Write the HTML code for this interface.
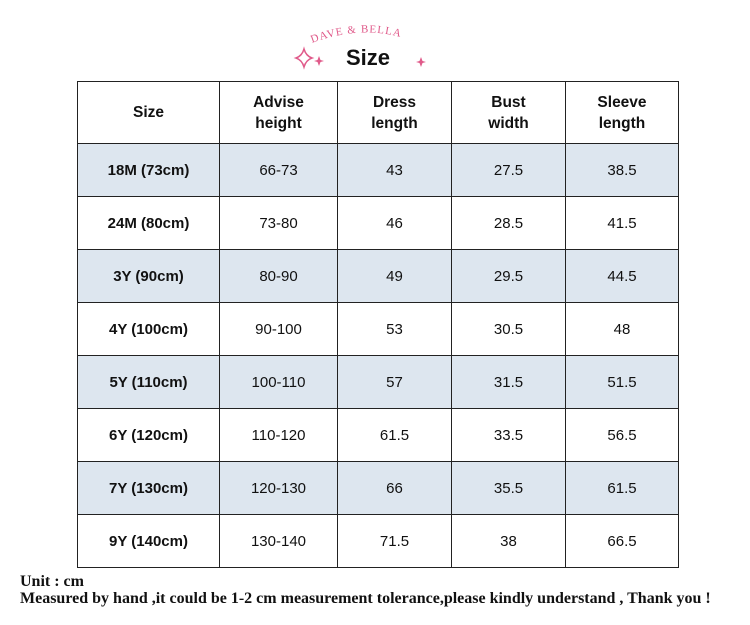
<!DOCTYPE html>
<html><head><meta charset="utf-8"><style>
body{margin:0;width:750px;height:625px;background:#fff;position:relative;overflow:hidden;font-family:"Liberation Sans",sans-serif}
table{position:absolute;left:77px;top:81px;border-collapse:collapse;table-layout:fixed}
td{border:1.5px solid #222;text-align:center;font-size:15px;color:#111;padding:0}
tr.h td{height:61px;font-weight:bold;font-size:15.5px;line-height:21px}
tr td{height:52px}
tr.s td{background:#dde6ef}
td.f{font-weight:bold}
.t{position:absolute;font-family:"Liberation Serif",serif;font-weight:bold;font-size:16px;left:20px;color:#111;white-space:nowrap}
</style></head><body>
<svg width="750" height="80" style="position:absolute;left:0;top:0">
<defs><path id="arc" d="M312,43 Q368,22 418,43"/></defs>
<text font-family="Liberation Serif,serif" font-size="11" fill="#e05a8a" letter-spacing="1"><textPath href="#arc">DAVE &amp; BELLA</textPath></text>
<text x="346" y="65" font-family="Liberation Sans,sans-serif" font-weight="bold" font-size="22" fill="#111">Size</text>
<path d="M304,49 Q306,56 312,58 Q306,60 304,67 Q302,60 296,58 Q302,56 304,49Z" fill="none" stroke="#e05a8a" stroke-width="1.5"/>
<path d="M319,56 L320.5,60 L324,61 L320.5,62 L319,66 L317.5,62 L314,61 L317.5,60Z" fill="#e05a8a"/>
<path d="M421,57 L422.5,61 L426,62 L422.5,63 L421,67 L419.5,63 L416,62 L419.5,61Z" fill="#e05a8a"/>
</svg>
<table>
<colgroup><col style="width:142px"><col style="width:118px"><col style="width:114px"><col style="width:114px"><col style="width:113px"></colgroup>
<tr class="h"><td>Size</td><td>Advise<br>height</td><td>Dress<br>length</td><td>Bust<br>width</td><td>Sleeve<br>length</td></tr>
<tr class="s"><td class="f">18M (73cm)</td><td>66-73</td><td>43</td><td>27.5</td><td>38.5</td></tr>
<tr><td class="f">24M (80cm)</td><td>73-80</td><td>46</td><td>28.5</td><td>41.5</td></tr>
<tr class="s"><td class="f">3Y (90cm)</td><td>80-90</td><td>49</td><td>29.5</td><td>44.5</td></tr>
<tr><td class="f">4Y (100cm)</td><td>90-100</td><td>53</td><td>30.5</td><td>48</td></tr>
<tr class="s"><td class="f">5Y (110cm)</td><td>100-110</td><td>57</td><td>31.5</td><td>51.5</td></tr>
<tr><td class="f">6Y (120cm)</td><td>110-120</td><td>61.5</td><td>33.5</td><td>56.5</td></tr>
<tr class="s"><td class="f">7Y (130cm)</td><td>120-130</td><td>66</td><td>35.5</td><td>61.5</td></tr>
<tr><td class="f">9Y (140cm)</td><td>130-140</td><td>71.5</td><td>38</td><td>66.5</td></tr>
</table>
<div class="t" style="top:573px">Unit : cm</div>
<div class="t" style="top:590px">Measured by hand ,it could be 1-2 cm measurement tolerance,please kindly understand , Thank you !</div>
</body></html>
